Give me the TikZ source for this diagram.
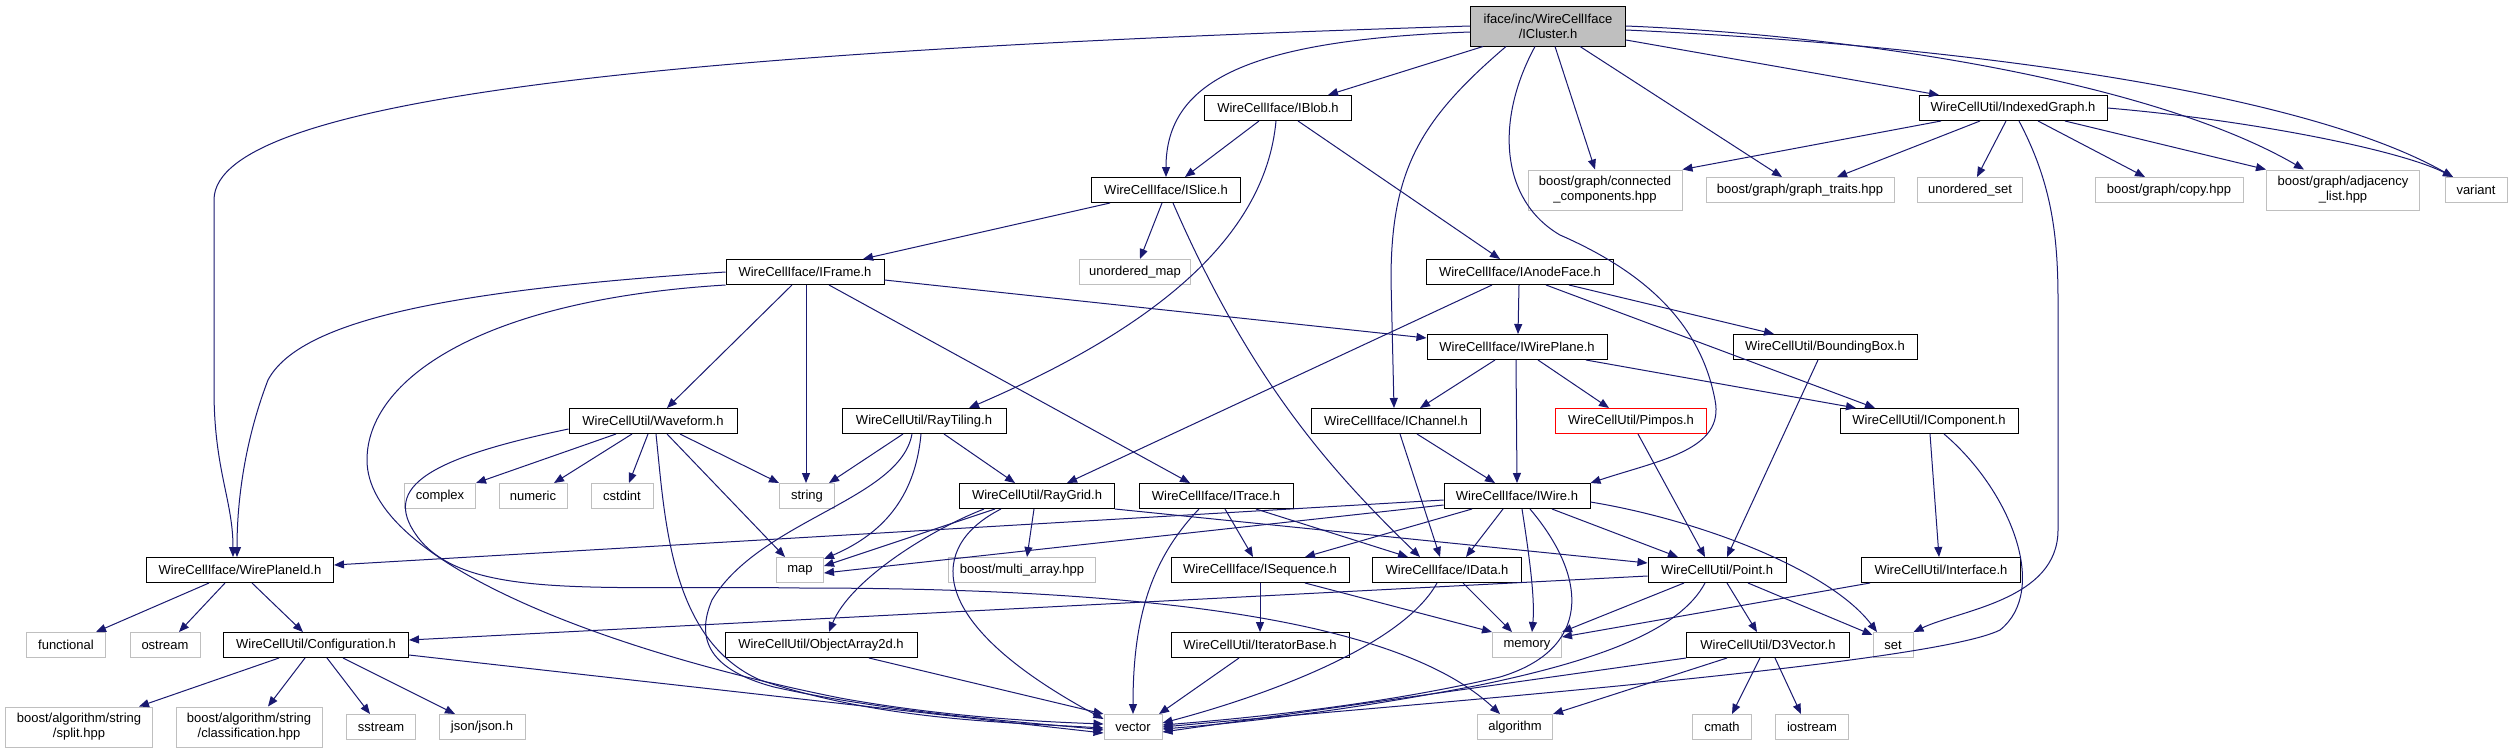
\documentclass[tikz,border=0pt]{standalone}
\usepackage{fontspec}
\setmainfont{Liberation Sans}
\usetikzlibrary{arrows.meta, positioning}
\definecolor{edgeblue}{RGB}{25,25,112}
\definecolor{sysgray}{RGB}{191,191,191}
\definecolor{rootfill}{RGB}{191,191,191}
\definecolor{redline}{RGB}{255,0,0}
\tikzset{
  filebox/.style={rectangle, draw=black, fill=white, line width=1pt,
    minimum height=25pt, inner sep=0pt, font=\fontsize{13}{15}\selectfont},
  sysbox/.style={filebox, draw=sysgray},
  twoline/.style={align=center, minimum height=40pt},
  rootbox/.style={filebox, twoline, fill=rootfill},
  redbox/.style={filebox, draw=redline},
  dep/.style={-{Triangle[length=10pt,width=8pt]}, line width=1pt, color=edgeblue}
}

\begin{document}
\begin{tikzpicture}[x=1pt, y=-1pt]
  \useasboundingbox (0,0) rectangle (2512,753);
  \fill[white] (0,0) rectangle (2512,753);

  % row 0 and 1
  \node[rootbox, minimum width=155pt] (icluster) at (1548,26) {iface/inc/WireCellIface\\/ICluster.h};
  \node[filebox, minimum width=147pt] (iblob) at (1278,108) {WireCellIface/IBlob.h};
  \node[filebox, minimum width=188pt] (indexedgraph) at (2013,108) {WireCellUtil/IndexedGraph.h};

  % row 2
  \node[filebox, minimum width=149pt] (islice) at (1166,190) {WireCellIface/ISlice.h};
  \node[sysbox, twoline, minimum width=154pt] (conncomp) at (1605,190) {boost/graph/connected\\\_components.hpp};
  \node[sysbox, minimum width=188pt] (graphtraits) at (1800,190) {boost/graph/graph\_traits.hpp};
  \node[sysbox, minimum width=105pt] (unorderedset) at (1970,190) {unordered\_set};
  \node[sysbox, minimum width=148pt] (copyhpp) at (2169,190) {boost/graph/copy.hpp};
  \node[sysbox, twoline, minimum width=153pt] (adjlist) at (2343,190) {boost/graph/adjacency\\\_list.hpp};
  \node[sysbox, minimum width=62pt] (variant) at (2476,190) {variant};

  % row 3 and 4
  \node[filebox, minimum width=158pt] (iframe) at (805,272) {WireCellIface/IFrame.h};
  \node[sysbox, minimum width=111pt] (unorderedmap) at (1135,272) {unordered\_map};
  \node[filebox, minimum width=187pt] (ianodeface) at (1520,272) {WireCellIface/IAnodeFace.h};
  \node[filebox, minimum width=180pt] (iwireplane) at (1517,347) {WireCellIface/IWirePlane.h};
  \node[filebox, minimum width=184pt] (boundingbox) at (1825,347) {WireCellUtil/BoundingBox.h};

  % row 5
  \node[filebox, minimum width=168pt] (waveform) at (653,421) {WireCellUtil/Waveform.h};
  \node[filebox, minimum width=164pt] (raytiling) at (924,421) {WireCellUtil/RayTiling.h};
  \node[filebox, minimum width=169pt] (ichannel) at (1396,421) {WireCellIface/IChannel.h};
  \node[redbox, minimum width=151pt] (pimpos) at (1631,421) {WireCellUtil/Pimpos.h};
  \node[filebox, minimum width=178pt] (icomponent) at (1929,421) {WireCellUtil/IComponent.h};

  % row 6
  \node[sysbox, minimum width=71pt] (complex) at (440,496) {complex};
  \node[sysbox, minimum width=68pt] (numeric) at (533,496) {numeric};
  \node[sysbox, minimum width=62pt] (cstdint) at (622,496) {cstdint};
  \node[sysbox, minimum width=55pt] (string) at (807,496) {string};
  \node[filebox, minimum width=155pt] (raygrid) at (1037,496) {WireCellUtil/RayGrid.h};
  \node[filebox, minimum width=154pt] (itrace) at (1216,496) {WireCellIface/ITrace.h};
  \node[filebox, minimum width=146pt] (iwire) at (1517,496) {WireCellIface/IWire.h};

  % row 7
  \node[filebox, minimum width=187pt] (wireplaneid) at (240,570) {WireCellIface/WirePlaneId.h};
  \node[sysbox, minimum width=47pt] (map) at (800,570) {map};
  \node[sysbox, minimum width=147pt] (multiarray) at (1022,570) {boost/multi\_array.hpp};
  \node[filebox, minimum width=178pt] (isequence) at (1260,570) {WireCellIface/ISequence.h};
  \node[filebox, minimum width=149pt] (idata) at (1447,570) {WireCellIface/IData.h};
  \node[filebox, minimum width=138pt] (point) at (1717,570) {WireCellUtil/Point.h};
  \node[filebox, minimum width=159pt] (interface) at (1941,570) {WireCellUtil/Interface.h};

  % row 8
  \node[sysbox, minimum width=79pt] (functional) at (66,645) {functional};
  \node[sysbox, minimum width=70pt] (ostream) at (165,645) {ostream};
  \node[filebox, minimum width=185pt] (configuration) at (316,645) {WireCellUtil/Configuration.h};
  \node[filebox, minimum width=192pt] (objectarray) at (821,645) {WireCellUtil/ObjectArray2d.h};
  \node[filebox, minimum width=178pt] (iteratorbase) at (1260,645) {WireCellUtil/IteratorBase.h};
  \node[sysbox, minimum width=69pt] (memory) at (1527,645) {memory};
  \node[filebox, minimum width=163pt] (d3vector) at (1768,645) {WireCellUtil/D3Vector.h};
  \node[sysbox, minimum width=40pt] (set) at (1893,645) {set};

  % row 9
  \node[sysbox, twoline, minimum width=147pt] (split) at (79,727) {boost/algorithm/string\\/split.hpp};
  \node[sysbox, twoline, minimum width=146pt] (classification) at (249,727) {boost/algorithm/string\\/classification.hpp};
  \node[sysbox, minimum width=69pt] (sstream) at (381,727) {sstream};
  \node[sysbox, minimum width=86pt] (json) at (482,727) {json/json.h};
  \node[sysbox, minimum width=58pt] (vector) at (1133,727) {vector};
  \node[sysbox, minimum width=75pt] (algorithm) at (1515,727) {algorithm};
  \node[sysbox, minimum width=59pt] (cmath) at (1722,727) {cmath};
  \node[sysbox, minimum width=73pt] (iostream) at (1812,727) {iostream};

  % ICluster.h
  \draw[dep] (icluster.west) .. controls (700,50) and (214,95) .. (214,200) -- (214,390)
    .. controls (214,470) and (233,500) .. ([xshift=-7]wireplaneid.north);
  \draw[dep] ([yshift=-6]icluster.west) .. controls (1250,40) and (1166,80) .. (islice.north);
  \draw[dep] ([xshift=-65]icluster.south) -- ([xshift=50]iblob.north);
  \draw[dep] ([xshift=-42]icluster.south) .. controls (1420,120) and (1391,170) .. (1391,280) -- ([xshift=-2]ichannel.north);
  \draw[dep] ([xshift=-13]icluster.south) .. controls (1495,120) and (1500,200) .. (1560,235)
    .. controls (1640,270) and (1700,320) .. (1715,400) .. controls (1725,450) and (1660,460) .. (iwire.north east);
  \draw[dep] ([xshift=7]icluster.south) -- ([xshift=-10]conncomp.north);
  \draw[dep] ([xshift=32]icluster.south) -- ([xshift=-18]graphtraits.north);
  \draw[dep] ([yshift=-14]icluster.east) -- ([xshift=-74]indexedgraph.north);
  \draw[dep] (icluster.east) .. controls (1850,35) and (2150,80) .. ([xshift=-39]adjlist.north);
  \draw[dep] ([yshift=-4]icluster.east) .. controls (1950,45) and (2300,90) .. ([xshift=-23]variant.north);

  % IndexedGraph.h
  \draw[dep] ([xshift=-72]indexedgraph.south) -- (conncomp.north east);
  \draw[dep] ([xshift=-33]indexedgraph.south) -- ([xshift=37]graphtraits.north);
  \draw[dep] ([xshift=-7]indexedgraph.south) -- ([xshift=7]unorderedset.north);
  \draw[dep] ([xshift=25]indexedgraph.south) -- ([xshift=-24]copyhpp.north);
  \draw[dep] ([xshift=52]indexedgraph.south) -- (adjlist.north west);
  \draw[dep] (indexedgraph.east) .. controls (2250,120) and (2400,150) .. ([xshift=-23]variant.north);
  \draw[dep] ([xshift=6]indexedgraph.south) .. controls (2050,180) and (2058,230) .. (2058,300) -- (2058,530)
    .. controls (2058,600) and (1960,610) .. (set.north east);

  % IBlob.h and ISlice.h
  \draw[dep] ([xshift=-19]iblob.south) -- ([xshift=19]islice.north);
  \draw[dep] ([xshift=-2]iblob.south) .. controls (1265,240) and (1150,330) .. ([xshift=45]raytiling.north);
  \draw[dep] ([xshift=20]iblob.south) -- ([xshift=-20]ianodeface.north);
  \draw[dep] ([xshift=-56]islice.south) -- ([xshift=58]iframe.north);
  \draw[dep] ([xshift=-4]islice.south) -- ([xshift=5]unorderedmap.north);
  \draw[dep] ([xshift=7]islice.south) .. controls (1250,380) and (1330,470) .. ([xshift=-27]idata.north);

  % IFrame.h
  \draw[dep] (iframe.west) .. controls (450,290) and (300,320) .. (268,380)
    .. controls (245,440) and (237,500) .. ([xshift=-3]wireplaneid.north);
  \draw[dep] (iframe.south west) .. controls (480,300) and (367,380) .. (367,460)
    .. controls (367,560) and (600,650) .. (840,698) .. controls (950,718) and (1050,722) .. ([yshift=3]vector.west);
  \draw[dep] ([xshift=-13]iframe.south) -- ([xshift=14]waveform.north);
  \draw[dep] ([xshift=1]iframe.south) -- ([xshift=-1]string.north);
  \draw[dep] ([xshift=24]iframe.south) -- ([xshift=-26]itrace.north);
  \draw[dep] ([yshift=-8]iframe.east) -- ([yshift=9]iwireplane.west);

  % IAnodeFace.h and IWirePlane.h
  \draw[dep] ([xshift=-28]ianodeface.south) -- ([xshift=30]raygrid.north);
  \draw[dep] ([xshift=-1]ianodeface.south) -- ([xshift=1]iwireplane.north);
  \draw[dep] ([xshift=49]ianodeface.south) -- ([xshift=-51]boundingbox.north);
  \draw[dep] ([xshift=26]ianodeface.south) -- ([xshift=-54]icomponent.north);
  \draw[dep] ([xshift=-22]iwireplane.south) -- ([xshift=24]ichannel.north);
  \draw[dep] ([xshift=-1]iwireplane.south) -- (iwire.north);
  \draw[dep] ([xshift=21]iwireplane.south) -- ([xshift=-22]pimpos.north);
  \draw[dep] ([xshift=69]iwireplane.south) -- ([xshift=-73]icomponent.north);

  % BoundingBox.h, IComponent.h, Pimpos.h
  \draw[dep] ([xshift=-7]boundingbox.south) -- ([xshift=10]point.north);
  \draw[dep] ([xshift=1]icomponent.south) -- ([xshift=-2]interface.north);
  \draw[dep] ([xshift=15]icomponent.south) .. controls (2010,490) and (2050,590) .. (2000,630)
    .. controls (1930,665) and (1400,705) .. (vector.east);
  \draw[dep] ([xshift=7]pimpos.south) -- ([xshift=-12]point.north);

  % Waveform.h
  \draw[dep] ([xshift=-37]waveform.south) -- (complex.north east);
  \draw[dep] ([xshift=-21]waveform.south) -- ([xshift=21]numeric.north);
  \draw[dep] ([xshift=-5]waveform.south) -- ([xshift=7]cstdint.north);
  \draw[dep] ([xshift=27]waveform.south) -- (string.north west);
  \draw[dep] ([xshift=14]waveform.south) -- ([xshift=-15]map.north);
  \draw[dep] ([xshift=3]waveform.south) .. controls (665,520) and (670,640) .. (760,680)
    .. controls (880,720) and (1000,722) .. ([yshift=-1]vector.west);
  \draw[dep] ([yshift=-8]waveform.west) .. controls (420,460) and (380,490) .. (420,540)
    .. controls (470,600) and (600,585) .. (800,588) .. controls (1150,588) and (1400,620) .. ([xshift=-15]algorithm.north);

  % RayTiling.h
  \draw[dep] ([xshift=-21]raytiling.south) -- ([xshift=22]string.north);
  \draw[dep] ([xshift=20]raytiling.south) -- ([xshift=-22]raygrid.north);
  \draw[dep] ([xshift=-3]raytiling.south) .. controls (915,500) and (880,535) .. ([yshift=11]map.east);
  \draw[dep] ([xshift=-12]raytiling.south) .. controls (900,500) and (760,520) .. (712,600)
    .. controls (695,640) and (710,670) .. (774,687) .. controls (900,715) and (1050,724) .. ([yshift=-3]vector.west);

  % RayGrid.h
  \draw[dep] ([xshift=-42]raygrid.south) -- ([yshift=4]map.east);
  \draw[dep] ([xshift=-3]raygrid.south) -- ([xshift=5]multiarray.north);
  \draw[dep] ([xshift=-53]raygrid.south) .. controls (930,530) and (850,580) .. ([xshift=8]objectarray.north);
  \draw[dep] ([xshift=-36]raygrid.south) .. controls (930,545) and (920,620) .. ([yshift=8]vector.west);
  \draw[dep] (raygrid.south east) -- ([yshift=7]point.west);

  % ITrace.h and IChannel.h
  \draw[dep] ([xshift=-17]itrace.south) .. controls (1150,560) and (1133,620) .. (vector.north);
  \draw[dep] ([xshift=9]itrace.south) -- ([xshift=-7]isequence.north);
  \draw[dep] ([xshift=40]itrace.south) -- ([xshift=-39]idata.north);
  \draw[dep] ([xshift=21]ichannel.south) -- ([xshift=-22]iwire.north);
  \draw[dep] ([xshift=4]ichannel.south) -- ([xshift=-7]idata.north);

  % IWire.h
  \draw[dep] ([yshift=-4]iwire.west) -- ([yshift=5]wireplaneid.east);
  \draw[dep] ([yshift=-9]iwire.west) -- ([yshift=-3]map.east);
  \draw[dep] ([xshift=-45]iwire.south) -- ([xshift=45]isequence.north);
  \draw[dep] ([xshift=-14]iwire.south) -- ([xshift=19]idata.north);
  \draw[dep] ([xshift=5]iwire.south) .. controls (1530,560) and (1535,600) .. ([xshift=5]memory.north);
  \draw[dep] ([xshift=13]iwire.south) .. controls (1590,580) and (1590,650) .. (1500,677)
    .. controls (1380,705) and (1250,718) .. ([yshift=2]vector.east);
  \draw[dep] ([xshift=35]iwire.south) -- ([xshift=-39]point.north);
  \draw[dep] ([yshift=-6]iwire.east) .. controls (1700,520) and (1830,570) .. ([xshift=-16]set.north);

  % WirePlaneId.h and Configuration.h
  \draw[dep] ([xshift=-31]wireplaneid.south) -- ([xshift=30]functional.north);
  \draw[dep] ([xshift=-15]wireplaneid.south) -- ([xshift=14]ostream.north);
  \draw[dep] ([xshift=12]wireplaneid.south) -- ([xshift=-13]configuration.north);
  \draw[dep] ([xshift=-37]configuration.south) -- ([xshift=60]split.north);
  \draw[dep] ([xshift=-11]configuration.south) -- ([xshift=19]classification.north);
  \draw[dep] ([xshift=11]configuration.south) -- ([xshift=-11]sstream.north);
  \draw[dep] ([xshift=27]configuration.south) -- ([xshift=-27]json.north);
  \draw[dep] ([yshift=-10]configuration.east) -- ([yshift=-6]vector.west);

  % ISequence.h and IData.h
  \draw[dep] (isequence.south) -- (iteratorbase.north);
  \draw[dep] ([xshift=45]isequence.south) -- (memory.north west);
  \draw[dep] ([xshift=16]idata.south) -- ([xshift=-15]memory.north);
  \draw[dep] ([xshift=-10]idata.south) .. controls (1400,650) and (1250,700) .. ([yshift=4]vector.east);

  % Point.h and Interface.h
  \draw[dep] ([yshift=-6]point.west) -- ([yshift=5]configuration.east);
  \draw[dep] ([xshift=-33]point.south) -- (memory.north east);
  \draw[dep] ([xshift=-71]interface.south) -- ([yshift=8]memory.east);
  \draw[dep] ([xshift=-12]point.south) .. controls (1680,630) and (1600,660) .. (1480,685)
    .. controls (1350,710) and (1250,722) .. ([yshift=-2]vector.east);
  \draw[dep] ([xshift=10]point.south) -- ([xshift=-11]d3vector.north);
  \draw[dep] ([xshift=31]point.south) -- ([yshift=10]set.west);

  % D3Vector.h, ObjectArray2d.h, IteratorBase.h
  \draw[dep] (d3vector.south west) -- ([yshift=-5]vector.east);
  \draw[dep] ([xshift=-41]d3vector.south) -- (algorithm.north east);
  \draw[dep] ([xshift=-8]d3vector.south) -- ([xshift=10]cmath.north);
  \draw[dep] ([xshift=7]d3vector.south) -- ([xshift=-11]iostream.north);
  \draw[dep] ([xshift=48]objectarray.south) -- (vector.north west);
  \draw[dep] ([xshift=-21]iteratorbase.south) -- ([xshift=26]vector.north);
\end{tikzpicture}
\end{document}
